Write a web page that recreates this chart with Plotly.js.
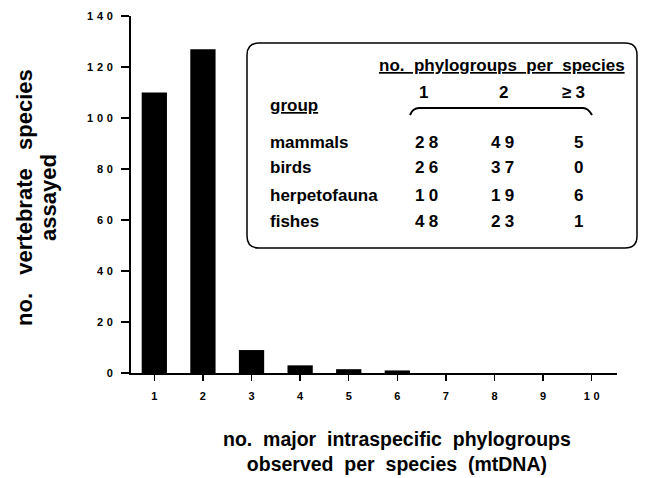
<!DOCTYPE html>
<html>
<head>
<meta charset="utf-8">
<script src="https://cdn.plot.ly/plotly-3.0.1.min.js"></script>
<style>html,body{margin:0;padding:0;background:#fff;}#chart{width:647px;height:478px;}</style>
</head>
<body>
<div id="chart"></div>
<script>
// Histogram data
const phylogroups = [1, 2, 3, 4, 5, 6, 7, 8, 9, 10];
const speciesCount = [110, 127, 9, 3, 1.5, 1, 0, 0, 0, 0];
const xTickLabels = ["1", "2", "3", "4", "5", "6", "7", "8", "9", "1\u20040"];
const yTickValues = [0, 20, 40, 60, 80, 100, 120, 140];
const yTickLabels = ["0", "2\u20040", "4\u20040", "6\u20040", "8\u20040", "1\u20040\u20040", "1\u20042\u20040", "1\u20044\u20040"];

// Inset table data
const tableGroups = ["mammals", "birds", "herpetofauna", "fishes"];
const tableCols = ["1", "2", "\u2265\u20053"];
const col1 = [28, 26, 10, 48];
const col2 = [49, 37, 19, 23];
const col3 = [5, 0, 6, 1];

const W = 647, H = 478;
const M = {l: 131, r: 30, t: 16, b: 105};
const PW = W - M.l - M.r, PH = H - M.t - M.b;
const px = v => (v - M.l) / PW;
const py = v => (H - M.b - v) / PH;

const FONT = "Liberation Sans, Arial, Helvetica, sans-serif";
const spaced = n => String(n).split("").join("\u2005");
const SP2 = "\u00a0\u00a0", SP3 = "\u00a0\u00a0\u00a0";

const annotations = [];
function addText(text, x, y, size, xanchor, extra) {
  annotations.push(Object.assign({
    text: text, x: px(x), y: py(y), xref: "paper", yref: "paper",
    xanchor: xanchor || "center", yanchor: "middle", showarrow: false,
    font: {family: FONT, size: size, color: "#000", weight: "bold"}
  }, extra || {}));
}

// Axis titles
addText(["no.", "vertebrate", "species"].join(SP3), 24, 198, 22, "center", {textangle: -90});
addText("assayed", 48, 198, 22, "center", {textangle: -90});
addText(["no.", "major", "intraspecific", "phylogroups"].join(SP2) + "<br>" +
        ["observed", "per", "species", "(mtDNA)"].join(SP2), 397, 451, 19.5, "center");

// Inset table text
const TS = 17;
const ul = {font: {family: FONT, size: TS, color: "#000", weight: "bold", lineposition: "under"}};
addText(["no.", "phylogroups", "per", "species"].join(SP2), 502, 66, TS, "center", ul);
addText("group", 268, 105, TS, "left", ul);
const colX = [423, 503, 573];
tableCols.forEach((c, i) => addText(c, colX[i], 92, TS, "center"));
const numX = [426, 502, 578];
const rowY = [142, 167, 195, 222];
tableGroups.forEach((g, i) => {
  addText(g, 268, rowY[i], TS, "left");
  addText(spaced(col1[i]), numX[0], rowY[i], TS, "center");
  addText(spaced(col2[i]), numX[1], rowY[i], TS, "center");
  addText(spaced(col3[i]), numX[2], rowY[i], TS, "center");
});

// Rounded box and brace
const bx0 = px(247), bx1 = px(637), by0 = py(43), by1 = py(248);
const rx = 12 / PW, ry = 12 / PH;
const boxPath = `M ${bx0 + rx},${by0} L ${bx1 - rx},${by0} Q ${bx1},${by0} ${bx1},${by0 - ry} ` +
  `L ${bx1},${by1 + ry} Q ${bx1},${by1} ${bx1 - rx},${by1} L ${bx0 + rx},${by1} ` +
  `Q ${bx0},${by1} ${bx0},${by1 + ry} L ${bx0},${by0 - ry} Q ${bx0},${by0} ${bx0 + rx},${by0} Z`;
const bracePath = `M ${px(410)},${py(115)} Q ${px(413)},${py(108)} ${px(419)},${py(108)} ` +
  `L ${px(583)},${py(108)} Q ${px(588)},${py(108)} ${px(592)},${py(115)}`;

const shapes = [
  {type: "path", xref: "paper", yref: "paper", path: boxPath, line: {color: "#000", width: 1.5}, fillcolor: "rgba(0,0,0,0)"},
  {type: "path", xref: "paper", yref: "paper", path: bracePath, line: {color: "#000", width: 2}}
];

const trace = {
  type: "bar", x: phylogroups, y: speciesCount, width: 0.52,
  marker: {color: "#000", line: {width: 0}}, hoverinfo: "none"
};

const tickfont = {family: FONT, size: 11, weight: "bold", color: "#000"};
const layout = {
  width: W, height: H, margin: M, showlegend: false,
  paper_bgcolor: "#fff", plot_bgcolor: "#fff",
  font: {family: FONT, color: "#000"},
  xaxis: {
    range: [0.52, 10.52], tickvals: phylogroups, ticktext: xTickLabels,
    showline: true, linecolor: "#000", linewidth: 2, ticks: "outside", ticklen: 6, tickwidth: 1.5, tickcolor: "#000",
    showgrid: false, zeroline: false, tickfont: tickfont, ticklabelstandoff: 6, fixedrange: true
  },
  yaxis: {
    range: [0, 140], tickvals: yTickValues, ticktext: yTickLabels,
    showline: true, linecolor: "#000", linewidth: 2, ticks: "outside", ticklen: 8, tickwidth: 1.5, tickcolor: "#000",
    showgrid: false, zeroline: false, tickfont: tickfont, ticklabelstandoff: 6, fixedrange: true
  },
  annotations: annotations, shapes: shapes
};

Plotly.newPlot("chart", [trace], layout, {displayModeBar: false, staticPlot: true});
</script>
</body>
</html>
